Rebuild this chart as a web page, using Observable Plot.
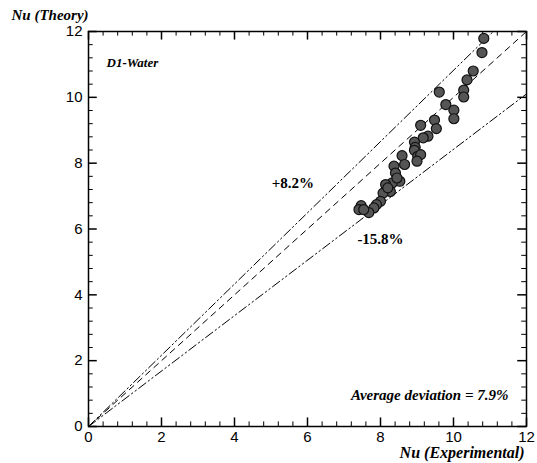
<!DOCTYPE html>
<html><head><meta charset="utf-8">
<script src="https://cdn.jsdelivr.net/npm/d3@7"></script>
<script src="https://cdn.jsdelivr.net/npm/@observablehq/plot@0.6"></script>
<style>body{margin:0;background:#fff}</style>
</head><body><div id="chart"></div>
<script>
const nuExp = [10.83,10.78,10.54,10.37,10.28,10.28,9.61,9.79,10.01,10.01,9.48,9.10,9.53,9.30,9.17,8.93,8.95,8.93,9.02,9.10,9.00,8.59,8.66,8.37,8.41,8.53,8.32,8.14,8.27,8.07,8.00,7.89,7.82,7.47,7.41,7.68,7.54,8.45,8.20];
const nuTheory = [11.79,11.36,10.80,10.53,10.22,10.01,10.16,9.78,9.61,9.35,9.31,9.15,9.05,8.82,8.77,8.64,8.48,8.39,8.21,8.26,8.06,8.23,7.96,7.91,7.70,7.45,7.40,7.35,7.14,7.09,6.84,6.74,6.64,6.71,6.59,6.50,6.59,7.55,7.25];
const tickVals = [0,2,4,6,8,10,12];
const minorVals = [0.4,0.8,1.2,1.6,2.4,2.8,3.2,3.6,4.4,4.8,5.2,5.6,6.4,6.8,7.2,7.6,8.4,8.8,9.2,9.6,10.4,10.8,11.2,11.6];
const upperFactor = 1.082, lowerFactor = 0.842;
const axisMax = 12;
const labels = {upper: "+8.2%", lower: "-15.8%", title: "D1-Water", avg: "Average deviation = 7.9%", xLabel: "Nu (Experimental)", yLabel: "Nu (Theory)"};

const pts = nuExp.map((x, i) => ({x, y: nuTheory[i]}));
const serif = "'Liberation Serif', 'DejaVu Serif', serif";
const sans = "'Liberation Sans', Arial, sans-serif";
const lineData = (f) => [0, Math.min(axisMax, axisMax / f)].map(x => ({x, y: x * f}));
const c = (v) => () => v;

const chart = Plot.plot({
  width: 537, height: 463,
  marginLeft: 88, marginRight: 11, marginTop: 31, marginBottom: 37,
  x: {domain: [0, 12]},
  y: {domain: [0, 12]},
  marks: [
    Plot.axisX(tickVals, {anchor: "bottom", tickSize: 0, tickPadding: 5, label: null, fontSize: 15, fontFamily: sans}),
    Plot.axisY(tickVals, {anchor: "left", tickSize: 0, tickPadding: 6, label: null, fontSize: 15, fontFamily: sans}),
    Plot.frame({stroke: "black", strokeWidth: 1.5}),
    // inward ticks on all four sides
    Plot.ruleX(tickVals, {x: d => d, y1: c(0), y2: c(0.26), stroke: "black", strokeWidth: 1.5}),
    Plot.ruleX(minorVals, {x: d => d, y1: c(0), y2: c(0.14), stroke: "black", strokeWidth: 1}),
    Plot.ruleX(tickVals, {x: d => d, y1: c(12), y2: c(11.74), stroke: "black", strokeWidth: 1.5}),
    Plot.ruleX(minorVals, {x: d => d, y1: c(12), y2: c(11.86), stroke: "black", strokeWidth: 1}),
    Plot.ruleY(tickVals, {y: d => d, x1: c(0), x2: c(0.24), stroke: "black", strokeWidth: 1.5}),
    Plot.ruleY(minorVals, {y: d => d, x1: c(0), x2: c(0.13), stroke: "black", strokeWidth: 1}),
    Plot.ruleY(tickVals, {y: d => d, x1: c(12), x2: c(11.76), stroke: "black", strokeWidth: 1.5}),
    Plot.ruleY(minorVals, {y: d => d, x1: c(12), x2: c(11.87), stroke: "black", strokeWidth: 1}),
    // reference lines
    Plot.line(lineData(1), {x: "x", y: "y", stroke: "#000", strokeWidth: 1, strokeDasharray: "6,5"}),
    Plot.line(lineData(upperFactor), {x: "x", y: "y", stroke: "#000", strokeWidth: 1, strokeDasharray: "9,3,1.5,3,1.5,3"}),
    Plot.line(lineData(lowerFactor), {x: "x", y: "y", stroke: "#000", strokeWidth: 1, strokeDasharray: "9,3,1.5,3,1.5,3"}),
    // data
    Plot.dot(pts, {x: "x", y: "y", r: 5, fill: "#555", stroke: "#111", strokeWidth: 1.2}),
    // annotations
    Plot.text([labels.title], {frameAnchor: "top-left", dx: 18, dy: 26, text: d => d, fontFamily: serif, fontWeight: "bold", fontStyle: "italic", fontSize: 13, textAnchor: "start"}),
    Plot.text([labels.upper], {x: 5.6, y: 7.4, text: d => d, fontFamily: serif, fontWeight: "bold", fontSize: 15}),
    Plot.text([labels.lower], {x: 8.0, y: 5.7, text: d => d, fontFamily: serif, fontWeight: "bold", fontSize: 15}),
    Plot.text([labels.avg], {x: 9.35, y: 0.95, text: d => d, fontFamily: serif, fontWeight: "bold", fontStyle: "italic", fontSize: 15}),
    Plot.text([labels.xLabel], {frameAnchor: "bottom-right", dx: -2, dy: 31, text: d => d, textAnchor: "end", fontFamily: serif, fontWeight: "bold", fontStyle: "italic", fontSize: 16}),
    Plot.text([labels.yLabel], {frameAnchor: "top-left", dx: -77, dy: -22, text: d => d, textAnchor: "start", fontFamily: serif, fontWeight: "bold", fontStyle: "italic", fontSize: 15})
  ]
});
document.getElementById("chart").appendChild(chart);
</script>
</body></html>
